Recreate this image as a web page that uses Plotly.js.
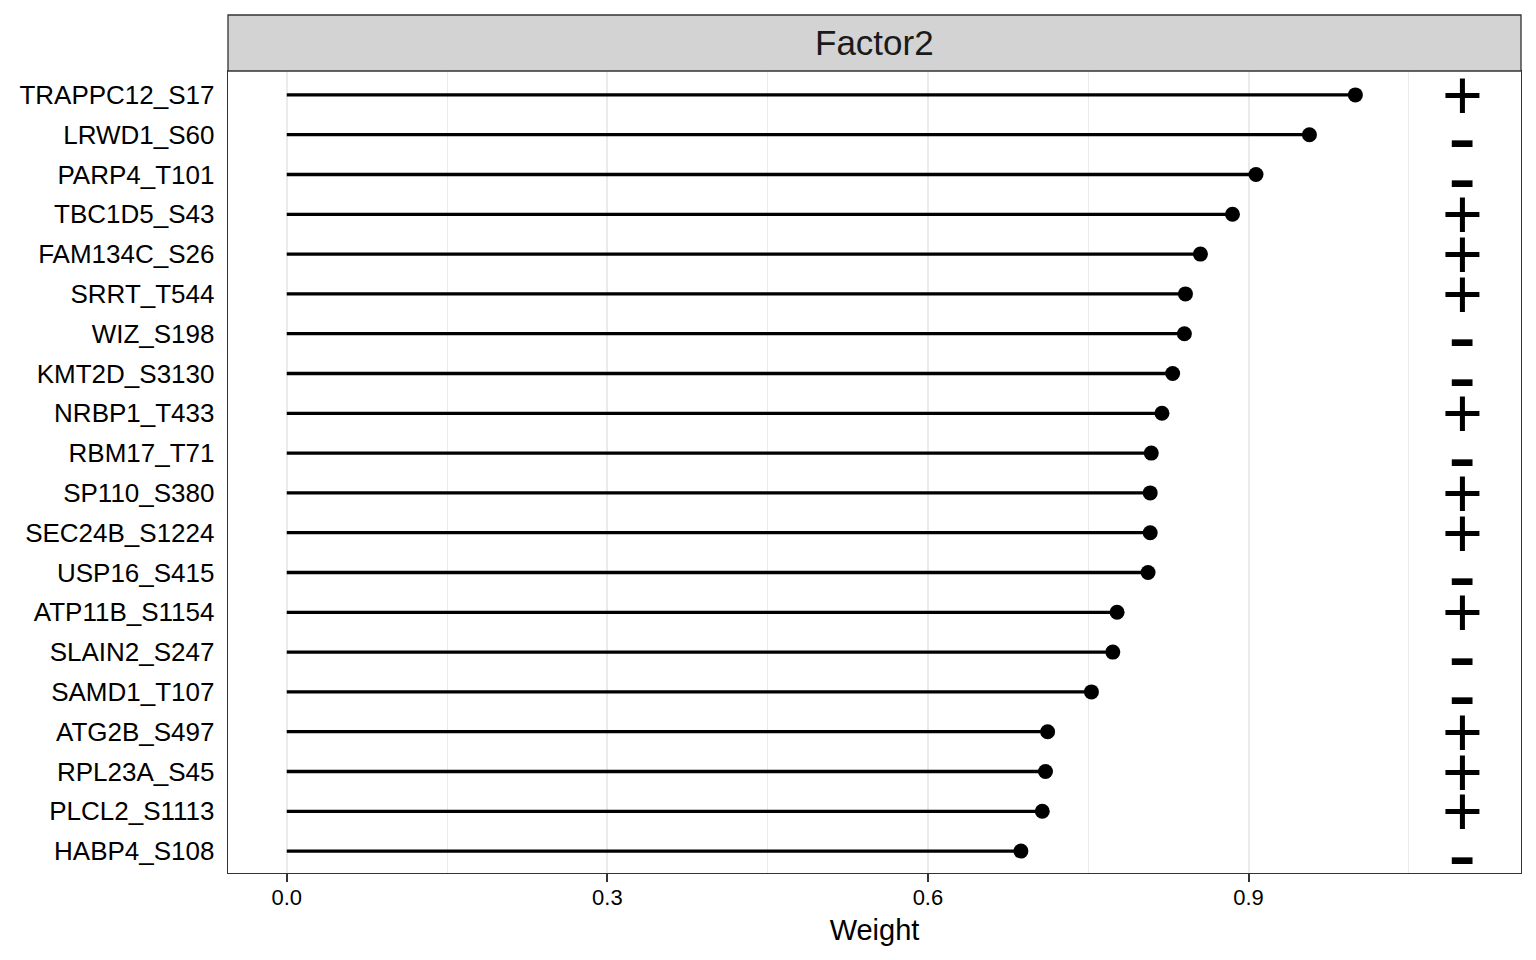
<!DOCTYPE html>
<html>
<head>
<meta charset="utf-8">
<script src="https://cdn.plot.ly/plotly-3.0.1.min.js"></script>
<style>html,body{margin:0;padding:0;background:#fff;}#chart{width:1536px;height:960px;}</style>
</head>
<body>
<div id="chart"></div>
<script>
// Features, top to bottom
const features = ["TRAPPC12_S17","LRWD1_S60","PARP4_T101","TBC1D5_S43","FAM134C_S26","SRRT_T544","WIZ_S198","KMT2D_S3130","NRBP1_T433","RBM17_T71","SP110_S380","SEC24B_S1224","USP16_S415","ATP11B_S1154","SLAIN2_S247","SAMD1_T107","ATG2B_S497","RPL23A_S45","PLCL2_S1113","HABP4_S108"];
const weights = [1.000,0.957,0.907,0.885,0.855,0.841,0.840,0.829,0.819,0.809,0.808,0.808,0.806,0.777,0.773,0.753,0.712,0.710,0.707,0.687];
const signs = ["+","-","-","+","+","+","-","-","+","-","+","+","-","+","-","-","+","+","+","-"];
const signX = 1.1;
const xTicks = [0, 0.3, 0.6, 0.9];
const xTickLabels = ["0.0","0.3","0.6","0.9"];

const FONT = '"Liberation Sans", Arial, Helvetica, sans-serif';

// segment trace built from data
const segX = [], segY = [];
features.forEach((f, i) => { segX.push(0, weights[i], null); segY.push(f, f, null); });

const traces = [
  {type:'scatter', mode:'lines', x:segX, y:segY, line:{color:'#000', width:3.3}, hoverinfo:'skip', showlegend:false},
  {type:'scatter', mode:'markers', x:weights, y:features, marker:{color:'#000', size:15, line:{width:0}}, showlegend:false}
];

const signAnnotations = features.map((f, i) => ({
  xref:'x', yref:'y', x:signX, y:f, text:signs[i], showarrow:false,
  xanchor:'center', yanchor:'middle',
  yshift: signs[i] === '+' ? 0 : -2,
  font:{family:FONT, color:'#000', size: signs[i] === '+' ? 70 : 85}
}));

const layout = {
  width:1536, height:960,
  margin:{l:228, r:15, t:71, b:87, pad:0},
  paper_bgcolor:'#fff', plot_bgcolor:'#fff',
  font:{family:FONT, color:'#000'},
  showlegend:false,
  xaxis:{
    range:[-0.055, 1.155], autorange:false,
    tickvals:xTicks, ticktext:xTickLabels,
    ticks:'outside', ticklen:8, tickwidth:2, tickcolor:'#333',
    ticklabelstandoff:-4,
    tickfont:{size:22, color:'#000', family:FONT},
    showgrid:true, gridcolor:'#EBEBEB', gridwidth:2,
    minor:{dtick:0.15, tick0:0, showgrid:true, gridcolor:'#EBEBEB', gridwidth:1, ticks:''},
    zeroline:false,
    showline:true, mirror:true, linecolor:'#333', linewidth:1.3,
    title:{text:'Weight', font:{size:29, color:'#000', family:FONT}, standoff:11}
  },
  yaxis:{
    type:'category',
    categoryorder:'array', categoryarray:features.slice().reverse(),
    range:[-0.55, 19.6], autorange:false,
    ticks:'', ticklabelstandoff:7,
    tickfont:{size:26, color:'#000', family:FONT},
    showgrid:false, zeroline:false,
    showline:true, mirror:true, linecolor:'#333', linewidth:1.3
  },
  shapes:[
    {type:'rect', xref:'paper', yref:'paper', x0:0, x1:1, y0:1, y1:1+56/802,
     fillcolor:'#D3D3D3', line:{color:'#333', width:1.3}, layer:'above'}
  ],
  annotations:[
    {text:'Factor2', xref:'paper', yref:'paper', x:0.5, y:1+28/802, xanchor:'center', yanchor:'middle',
     showarrow:false, font:{size:35, color:'#1A1A1A', family:FONT}}
  ].concat(signAnnotations)
};

Plotly.newPlot('chart', traces, layout, {displayModeBar:false, staticPlot:true});
</script>
</body>
</html>
